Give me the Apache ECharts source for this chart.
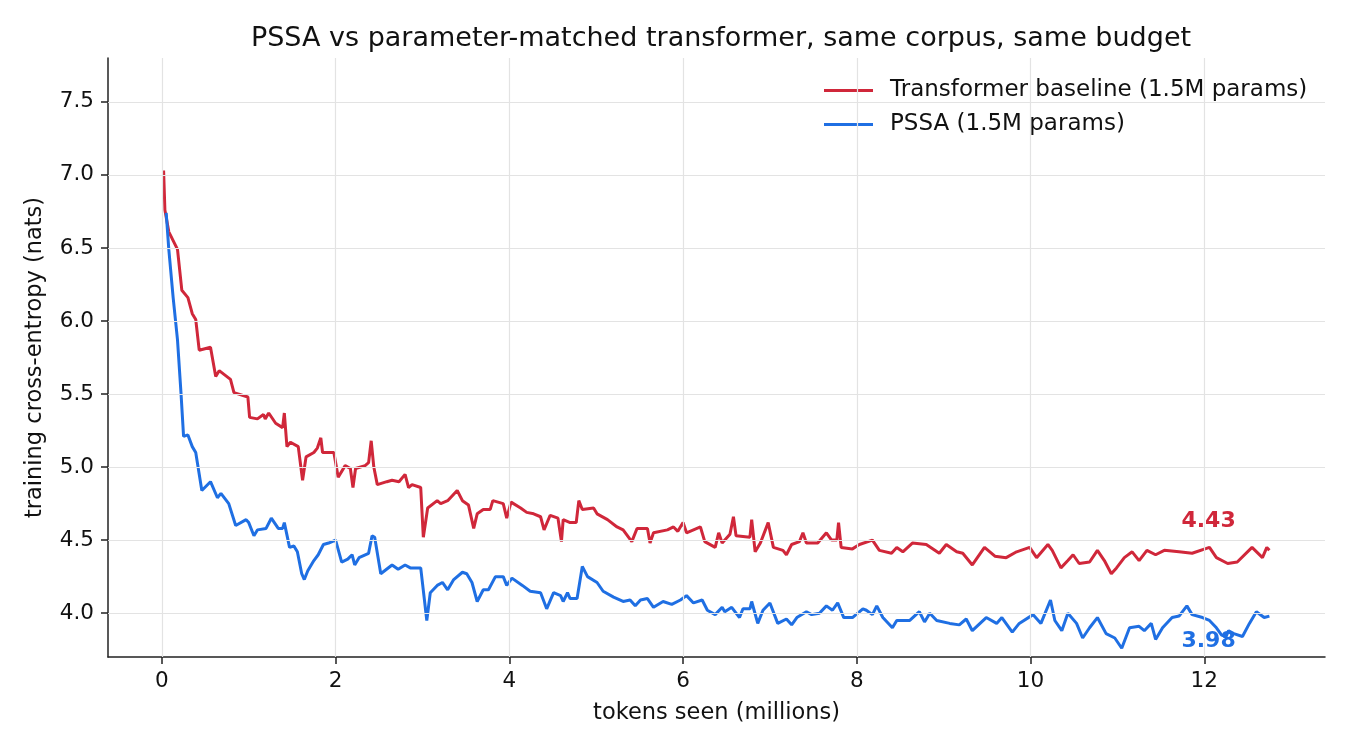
<!DOCTYPE html>
<html>
<head>
<meta charset="utf-8">
<script src="https://cdn.jsdelivr.net/npm/echarts@6/dist/echarts.min.js"></script>
<style>
  html, body { margin: 0; padding: 0; background: #fff; }
  #chart { width: 1350px; height: 750px; }
</style>
</head>
<body>
<div id="chart"></div>
<script>
// tokens seen (millions) and training loss
var tokensBase = [0.02, 0.035, 0.08, 0.18, 0.23, 0.30, 0.35, 0.39, 0.43, 0.56, 0.62, 0.66, 0.79, 0.83, 0.99, 1.01, 1.10, 1.17, 1.19, 1.23,
  1.31, 1.39, 1.41, 1.44, 1.48, 1.57, 1.62, 1.66, 1.75, 1.79, 1.83, 1.85, 1.98, 2.03, 2.11, 2.17, 2.20, 2.23, 2.34, 2.38,
  2.41, 2.44, 2.48, 2.59, 2.65, 2.73, 2.80, 2.84, 2.88, 2.98, 3.01, 3.06, 3.17, 3.21, 3.29, 3.40, 3.46, 3.53, 3.59, 3.63,
  3.70, 3.78, 3.81, 3.87, 3.93, 3.97, 4.02, 4.13, 4.20, 4.28, 4.36, 4.40, 4.47, 4.56, 4.60, 4.62, 4.70, 4.77, 4.80, 4.84,
  4.97, 5.01, 5.13, 5.24, 5.31, 5.41, 5.47, 5.59, 5.62, 5.66, 5.82, 5.89, 5.94, 6.00, 6.04, 6.20, 6.25, 6.37, 6.41, 6.45,
  6.54, 6.58, 6.61, 6.77, 6.79, 6.83, 6.89, 6.98, 7.04, 7.15, 7.19, 7.25, 7.34, 7.38, 7.42, 7.55, 7.65, 7.71, 7.77, 7.79,
  7.82, 7.95, 8.03, 8.18, 8.26, 8.40, 8.46, 8.53, 8.64, 8.80, 8.95, 9.03, 9.15, 9.22, 9.33, 9.47, 9.59, 9.72, 9.84, 9.99,
  10.07, 10.20, 10.25, 10.35, 10.43, 10.49, 10.56, 10.68, 10.77, 10.85, 10.93, 10.99, 11.08, 11.17, 11.25, 11.34, 11.44, 11.54, 11.71, 11.86,
  12.06, 12.14, 12.27, 12.38, 12.55, 12.67, 12.72, 12.75];
var lossBase = [7.03, 6.76, 6.61, 6.49, 6.21, 6.16, 6.05, 6.01, 5.80, 5.82, 5.62, 5.66, 5.60, 5.51, 5.48, 5.34, 5.33, 5.36, 5.33, 5.37,
  5.30, 5.27, 5.37, 5.14, 5.17, 5.14, 4.91, 5.07, 5.10, 5.13, 5.20, 5.10, 5.10, 4.93, 5.01, 4.99, 4.86, 4.99, 5.01, 5.03,
  5.18, 5.00, 4.88, 4.90, 4.91, 4.90, 4.95, 4.86, 4.88, 4.86, 4.52, 4.72, 4.77, 4.75, 4.77, 4.84, 4.77, 4.74, 4.58, 4.68,
  4.71, 4.71, 4.77, 4.76, 4.75, 4.65, 4.76, 4.72, 4.69, 4.68, 4.66, 4.57, 4.67, 4.65, 4.49, 4.64, 4.62, 4.62, 4.77, 4.71,
  4.72, 4.68, 4.64, 4.59, 4.57, 4.49, 4.58, 4.58, 4.48, 4.55, 4.57, 4.59, 4.56, 4.62, 4.55, 4.59, 4.49, 4.45, 4.55, 4.48,
  4.54, 4.66, 4.53, 4.52, 4.64, 4.42, 4.48, 4.62, 4.45, 4.43, 4.40, 4.47, 4.49, 4.55, 4.48, 4.48, 4.55, 4.50, 4.50, 4.62,
  4.45, 4.44, 4.47, 4.50, 4.43, 4.41, 4.45, 4.42, 4.48, 4.47, 4.41, 4.47, 4.42, 4.41, 4.33, 4.45, 4.39, 4.38, 4.42, 4.45,
  4.38, 4.47, 4.43, 4.31, 4.36, 4.40, 4.34, 4.35, 4.43, 4.36, 4.27, 4.31, 4.38, 4.42, 4.36, 4.43, 4.40, 4.43, 4.42, 4.41,
  4.45, 4.38, 4.34, 4.35, 4.45, 4.38, 4.45, 4.43];

var tokensPssa = [0.05, 0.08, 0.13, 0.18, 0.22, 0.25, 0.30, 0.35, 0.39, 0.46, 0.56, 0.64, 0.68, 0.77, 0.85, 0.97, 1.00, 1.06, 1.10, 1.20,
  1.26, 1.34, 1.39, 1.41, 1.47, 1.52, 1.56, 1.61, 1.64, 1.68, 1.75, 1.80, 1.86, 1.92, 2.00, 2.07, 2.14, 2.19, 2.22, 2.27,
  2.38, 2.42, 2.45, 2.52, 2.65, 2.72, 2.80, 2.86, 2.98, 3.05, 3.09, 3.17, 3.23, 3.29, 3.36, 3.46, 3.51, 3.57, 3.63, 3.70,
  3.76, 3.84, 3.93, 3.97, 4.03, 4.15, 4.24, 4.36, 4.43, 4.51, 4.59, 4.62, 4.67, 4.70, 4.78, 4.84, 4.90, 5.01, 5.08, 5.20,
  5.31, 5.39, 5.45, 5.51, 5.59, 5.66, 5.77, 5.87, 5.97, 6.04, 6.12, 6.22, 6.28, 6.37, 6.45, 6.48, 6.56, 6.65, 6.69, 6.77,
  6.79, 6.86, 6.92, 7.00, 7.09, 7.19, 7.25, 7.31, 7.42, 7.48, 7.57, 7.65, 7.72, 7.78, 7.85, 7.95, 8.07, 8.11, 8.18, 8.23,
  8.30, 8.41, 8.46, 8.61, 8.72, 8.78, 8.84, 8.92, 9.07, 9.18, 9.26, 9.33, 9.49, 9.61, 9.67, 9.79, 9.87, 10.03, 10.12, 10.23,
  10.28, 10.36, 10.43, 10.53, 10.60, 10.68, 10.77, 10.87, 10.97, 11.05, 11.14, 11.25, 11.31, 11.39, 11.44, 11.52, 11.63, 11.71, 11.80, 11.86,
  11.98, 12.06, 12.14, 12.20, 12.25, 12.28, 12.34, 12.44, 12.52, 12.60, 12.69, 12.75];
var lossPssa = [6.74, 6.49, 6.16, 5.87, 5.51, 5.21, 5.22, 5.14, 5.10, 4.84, 4.90, 4.79, 4.82, 4.75, 4.60, 4.64, 4.62, 4.53, 4.57, 4.58,
  4.65, 4.58, 4.58, 4.62, 4.45, 4.46, 4.42, 4.27, 4.23, 4.29, 4.36, 4.40, 4.47, 4.48, 4.50, 4.35, 4.37, 4.40, 4.33, 4.38,
  4.41, 4.53, 4.52, 4.27, 4.33, 4.30, 4.33, 4.31, 4.31, 3.95, 4.14, 4.19, 4.21, 4.16, 4.23, 4.28, 4.27, 4.21, 4.08, 4.16,
  4.16, 4.25, 4.25, 4.19, 4.24, 4.19, 4.15, 4.14, 4.03, 4.14, 4.12, 4.08, 4.14, 4.10, 4.10, 4.32, 4.25, 4.21, 4.15, 4.11,
  4.08, 4.09, 4.05, 4.09, 4.10, 4.04, 4.08, 4.06, 4.09, 4.12, 4.07, 4.09, 4.02, 3.99, 4.04, 4.01, 4.04, 3.97, 4.03, 4.03,
  4.08, 3.93, 4.02, 4.07, 3.93, 3.96, 3.92, 3.97, 4.01, 3.99, 4.00, 4.05, 4.02, 4.07, 3.97, 3.97, 4.03, 4.02, 3.99, 4.05,
  3.97, 3.90, 3.95, 3.95, 4.01, 3.94, 4.00, 3.95, 3.93, 3.92, 3.96, 3.88, 3.97, 3.93, 3.97, 3.87, 3.93, 3.99, 3.93, 4.09,
  3.95, 3.88, 4.00, 3.93, 3.83, 3.90, 3.97, 3.86, 3.83, 3.76, 3.90, 3.91, 3.88, 3.93, 3.82, 3.90, 3.97, 3.98, 4.05, 3.99,
  3.97, 3.95, 3.90, 3.85, 3.84, 3.88, 3.86, 3.84, 3.93, 4.01, 3.97, 3.98];

var xTicks = [0, 2, 4, 6, 8, 10, 12];
var yTicks = [4.0, 4.5, 5.0, 5.5, 6.0, 6.5, 7.0, 7.5];

var RED = '#d0273a';
var BLUE = '#1f6fe3';
var FONT = 'DejaVu Sans';

function pairs(xs, ys) {
  return xs.map(function (x, i) { return [x, ys[i]]; });
}
var baseData = pairs(tokensBase, lossBase);
var pssaData = pairs(tokensPssa, lossPssa);

// final-value tag, placed left of and off the last point
function endTag(data, dy, color) {
  var last = data[data.length - 1];
  return {
    symbol: 'circle',
    symbolSize: 1,
    itemStyle: { color: 'rgba(0,0,0,0)' },
    label: {
      show: true, position: 'inside', formatter: last[1].toFixed(2),
      color: color, fontFamily: FONT, fontWeight: 'bold', fontSize: 22
    },
    data: [{ coord: [last[0] - 0.7, last[1] + dy] }]
  };
}

var chart = echarts.init(document.getElementById('chart'));
var option = {
  animation: false,
  backgroundColor: '#fff',
  textStyle: { fontFamily: FONT },
  title: {
    text: 'PSSA vs parameter-matched transformer, same corpus, same budget',
    left: 716, textAlign: 'center', top: 20,
    textStyle: { fontFamily: FONT, fontWeight: 'normal', fontSize: 27, color: '#111' }
  },
  legend: {
    data: ['Transformer baseline (1.5M params)', 'PSSA (1.5M params)'],
    orient: 'vertical', left: 824, top: 79, padding: 0,
    icon: 'rect', itemWidth: 49, itemHeight: 3, itemGap: 11,
    textStyle: { fontFamily: FONT, fontSize: 23, color: '#111', padding: [0, 0, 0, 12] }
  },
  grid: { left: 108, right: 25, top: 58, bottom: 93, containLabel: false },
  xAxis: {
    type: 'value', min: -0.62, max: 13.39,
    name: 'tokens seen (millions)', nameLocation: 'middle', nameGap: 45,
    nameTextStyle: { fontFamily: FONT, fontSize: 22.5, color: '#111' },
    axisLine: { show: true, onZero: false, lineStyle: { color: '#222', width: 1.5 } },
    axisTick: { show: true, length: 7, customValues: xTicks, lineStyle: { color: '#222', width: 1.5 } },
    axisLabel: { customValues: xTicks, margin: 13, fontSize: 21.5, color: '#111', fontFamily: FONT },
    splitLine: { show: false }
  },
  yAxis: {
    type: 'value', min: 3.7, max: 7.8,
    name: 'training cross-entropy (nats)', nameLocation: 'middle', nameGap: 61, nameRotate: 90,
    nameTextStyle: { fontFamily: FONT, fontSize: 22.5, color: '#111' },
    axisLine: { show: true, onZero: false, lineStyle: { color: '#222', width: 1.5 } },
    axisTick: { show: true, length: 7, customValues: yTicks, lineStyle: { color: '#222', width: 1.5 } },
    axisLabel: {
      customValues: yTicks, margin: 14, fontSize: 21.5, color: '#111', fontFamily: FONT,
      formatter: function (v) { return v.toFixed(1); }
    },
    splitLine: { show: false }
  },
  series: [
    {
      // invisible carrier for the grid lines, drawn under the data
      name: 'grid', type: 'line', data: baseData, symbol: 'none', silent: true, z: 1,
      lineStyle: { opacity: 0 },
      markLine: {
        silent: true, symbol: ['none', 'none'], label: { show: false },
        lineStyle: { color: '#e3e3e3', width: 1.2, type: 'solid' },
        data: xTicks.map(function (v) { return { xAxis: v }; })
          .concat(yTicks.map(function (v) { return { yAxis: v }; }))
      }
    },
    {
      name: 'Transformer baseline (1.5M params)', type: 'line', data: baseData,
      symbol: 'none', z: 3, color: RED,
      lineStyle: { color: RED, width: 3 },
      markPoint: endTag(baseData, 0.2, RED)
    },
    {
      name: 'PSSA (1.5M params)', type: 'line', data: pssaData,
      symbol: 'none', z: 4, color: BLUE,
      lineStyle: { color: BLUE, width: 3 },
      markPoint: endTag(pssaData, -0.17, BLUE)
    }
  ]
};
chart.setOption(option);
</script>
</body>
</html>
